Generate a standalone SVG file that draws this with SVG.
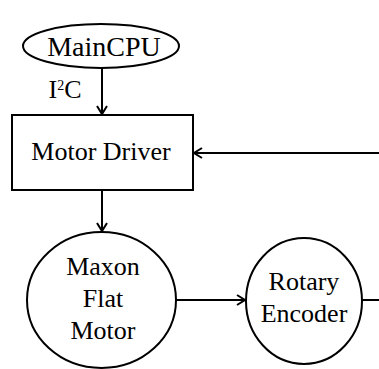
<svg xmlns="http://www.w3.org/2000/svg" width="379" height="369" viewBox="0 0 379 369">
<style>
.s{fill:#fff;stroke:#000;stroke-width:2}
.t{font-family:'Liberation Serif','Times New Roman',serif;font-size:26px;fill:#000;text-anchor:middle}
.c{stroke:#000;stroke-width:2;fill:none}
</style>
<defs>
<marker id="a" markerWidth="12" markerHeight="12" refX="10" refY="6" orient="auto" markerUnits="userSpaceOnUse">
<path d="M2,1 L10,6 L2,11" fill="none" stroke="#000" stroke-width="2"/>
</marker>
</defs>
<rect width="379" height="369" fill="#fff"/>
<g id="connectors">
<line class="c" x1="102" y1="67" x2="102" y2="114" marker-end="url(#a)"/>
<text class="t" x="65" y="98" font-size="22">I<tspan font-size="14" dy="-8">2</tspan><tspan dy="8">C</tspan></text>
<line class="c" x1="102" y1="190" x2="102" y2="231" marker-end="url(#a)"/>
<line class="c" x1="176" y1="300" x2="245" y2="300" marker-end="url(#a)"/>
<line class="c" x1="362" y1="300" x2="379" y2="300"/>
<line class="c" x1="379" y1="153" x2="194" y2="153" marker-end="url(#a)"/>
</g>
<g id="maincpu">
<ellipse class="s" cx="101" cy="46" rx="78" ry="22"/>
<text class="t" x="104" y="56" style="font-size:28px">MainCPU</text>
</g>
<g id="motordriver">
<rect class="s" x="12" y="115" width="181" height="75"/>
<text class="t" x="101" y="160">Motor Driver</text>
</g>
<g id="maxon">
<ellipse class="s" cx="101.5" cy="300" rx="74.5" ry="68"/>
<text class="t" x="103" y="275">Maxon</text>
<text class="t" x="103" y="307">Flat</text>
<text class="t" x="103" y="339">Motor</text>
</g>
<g id="encoder">
<ellipse class="s" cx="304" cy="301" rx="58" ry="63"/>
<text class="t" x="304" y="290">Rotary</text>
<text class="t" x="304" y="322">Encoder</text>
</g>
</svg>
